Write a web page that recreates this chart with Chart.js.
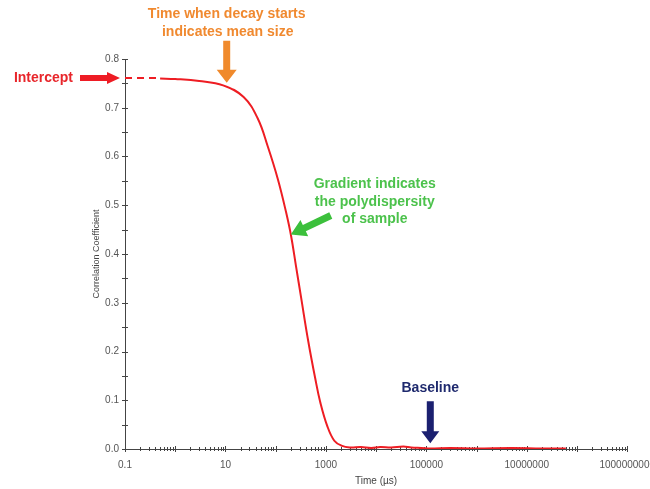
<!DOCTYPE html>
<html>
<head>
<meta charset="utf-8">
<script src="https://cdn.jsdelivr.net/npm/chart.js@4.4.0/dist/chart.umd.min.js"></script>
<style>
  html, body { margin: 0; padding: 0; background: #fff; overflow: hidden; }
  /* a bit wider than the window so the last x label gets cut like the original */
  #wrap { width: 665px; height: 489px; }
</style>
</head>
<body>
<div id="wrap"><canvas id="myChart"></canvas></div>
<script>
// correlation function (time in µs)
const timeUs = [0.5, 1, 3, 9, 23, 44, 70, 111, 161, 203, 255, 322, 444, 613, 773, 1067, 1473, 2035,
    3000, 5000, 8000, 12000, 20000, 35000, 50000, 80000, 120000, 300000, 1000000, 5000000, 20000000, 60000000];
const correlation = [0.760, 0.759, 0.755, 0.746, 0.722, 0.678, 0.620, 0.553, 0.486, 0.437, 0.374, 0.310, 0.222, 0.145, 0.096, 0.047, 0.017, 0.007,
    0.003, 0.004, 0.002, 0.004, 0.003, 0.005, 0.003, 0.002, 0.001, 0.002, 0.001, 0.002, 0.001, 0.001];

// extrapolated intercept (dashed part)
const interceptTime = [0.1, 0.5];
const interceptValue = [0.761, 0.761];

const xTickValues = [0.1, 10, 1000, 100000, 10000000, 1000000000];
const xTickLabels = ['0.1', '10', '1000', '100000', '10000000', '1000000000'];
const yTickValues = [0, 0.1, 0.2, 0.3, 0.4, 0.5, 0.6, 0.7, 0.8];
const yTickLabels = ['0.0', '0.1', '0.2', '0.3', '0.4', '0.5', '0.6', '0.7', '0.8'];

const lineRed = '#ee1d23';
const axisColor = '#444';

// small cross-shaped tick marks on both axes
const tickMarks = {
    id: 'tickMarks',
    beforeDatasetsDraw(chart) {
        const { ctx, scales: { x, y } } = chart;
        const x0 = x.left, y0 = y.bottom;
        ctx.save();
        ctx.strokeStyle = axisColor;
        ctx.lineWidth = 1;
        ctx.beginPath();
        for (let e = -1; e <= 9; e++) {
            for (let m = 1; m <= 9; m++) {
                const v = m * Math.pow(10, e);
                if (v > x.max * 1.0001) break;
                const px = Math.round(x.getPixelForValue(v)) + 0.5;
                const len = m === 1 ? 3 : 2;
                ctx.moveTo(px, y0 - len);
                ctx.lineTo(px, y0 + len);
            }
        }
        for (let i = 0; i <= 16; i++) {
            const py = Math.round(y.getPixelForValue(i * 0.05)) + 0.5;
            ctx.moveTo(x0 - 3, py);
            ctx.lineTo(x0 + 3, py);
        }
        ctx.stroke();
        ctx.restore();
    }
};

function drawArrow(ctx, x1, y1, x2, y2, shaftW, headW, headL, color) {
    const ang = Math.atan2(y2 - y1, x2 - x1);
    const len = Math.hypot(x2 - x1, y2 - y1);
    ctx.save();
    ctx.translate(x1, y1);
    ctx.rotate(ang);
    ctx.fillStyle = color;
    ctx.beginPath();
    ctx.moveTo(0, -shaftW / 2);
    ctx.lineTo(len - headL, -shaftW / 2);
    ctx.lineTo(len - headL, -headW / 2);
    ctx.lineTo(len, 0);
    ctx.lineTo(len - headL, headW / 2);
    ctx.lineTo(len - headL, shaftW / 2);
    ctx.lineTo(0, shaftW / 2);
    ctx.closePath();
    ctx.fill();
    ctx.restore();
}

const callouts = {
    id: 'callouts',
    afterDraw(chart) {
        const { ctx, chartArea, scales: { x, y } } = chart;
        ctx.save();
        ctx.font = 'bold 14px "Liberation Sans", Arial, sans-serif';
        ctx.textBaseline = 'middle';

        // intercept
        const iy = y.getPixelForValue(interceptValue[0]);
        const ix = chartArea.left - 5;
        drawArrow(ctx, ix - 40, iy, ix, iy, 6, 12, 13, '#ee1c24');
        ctx.fillStyle = '#e8262b';
        ctx.textAlign = 'right';
        ctx.fillText('Intercept', ix - 47, iy);

        // decay start
        const ox = x.getPixelForValue(10.6), oy = y.getPixelForValue(0.747) - 2;
        drawArrow(ctx, ox, oy - 42, ox, oy, 7, 20, 13, '#f08a2c');
        ctx.fillStyle = '#f0892f';
        ctx.textAlign = 'center';
        ctx.fillText('Time when decay starts', ox, oy - 69);
        ctx.fillText('indicates mean size', ox + 1, oy - 51);

        // gradient
        const gx = x.getPixelForValue(200), gy = y.getPixelForValue(0.44);
        drawArrow(ctx, gx + 40, gy - 19, gx, gy, 7, 18, 15, '#3cc03c');
        ctx.fillStyle = '#4cc24c';
        ctx.fillText('Gradient indicates', gx + 84, gy - 50);
        ctx.fillText('the polydispersity', gx + 84, gy - 32);
        ctx.fillText('of sample', gx + 84, gy - 15);

        // baseline
        const bx = x.getPixelForValue(120000), by = y.getPixelForValue(0.012);
        drawArrow(ctx, bx, by - 42, bx, by, 7, 18, 12, '#1b2070');
        ctx.fillStyle = '#1f2a6e';
        ctx.fillText('Baseline', bx, by - 55);
        ctx.restore();
    }
};

const ctx = document.getElementById('myChart').getContext('2d');
new Chart(ctx, {
    type: 'line',
    data: {
        datasets: [{
            label: 'Correlation',
            data: timeUs.map((t, i) => ({ x: t, y: correlation[i] })),
            borderColor: lineRed,
            borderWidth: 2,
            pointRadius: 0,
            tension: 0.4,
            fill: false
        }, {
            label: 'Intercept',
            data: interceptTime.map((t, i) => ({ x: t, y: interceptValue[i] })),
            borderColor: lineRed,
            borderWidth: 2,
            borderDash: [7, 5],
            pointRadius: 0,
            fill: false
        }]
    },
    options: {
        responsive: true,
        maintainAspectRatio: false,
        animation: false,
        layout: { padding: { left: 85, top: 59, right: 0, bottom: 0 } },
        plugins: { legend: { display: false }, tooltip: { enabled: false } },
        scales: {
            x: {
                type: 'logarithmic',
                min: 0.1,
                max: 1000000000,
                grid: { display: false, drawTicks: false },
                border: { display: true, color: axisColor, width: 1 },
                afterBuildTicks: (scale) => { scale.ticks = xTickValues.map(v => ({ value: v })); },
                afterFit: (scale) => { scale.height = 40; },
                ticks: {
                    autoSkip: false,
                    maxRotation: 0,
                    padding: 10,
                    color: '#555',
                    font: { family: '"Liberation Sans", Arial, sans-serif', size: 10 },
                    callback: (value, index) => xTickLabels[index]
                },
                title: {
                    display: true,
                    text: 'Time (µs)',
                    color: '#444',
                    font: { family: '"Liberation Sans", Arial, sans-serif', size: 10 },
                    padding: { top: 4, bottom: 2 }
                }
            },
            y: {
                min: 0,
                max: 0.8,
                grid: { display: false, drawTicks: false },
                border: { display: true, color: axisColor, width: 1 },
                afterBuildTicks: (scale) => { scale.ticks = yTickValues.map(v => ({ value: v })); },
                afterFit: (scale) => { scale.width = 40; },
                ticks: {
                    padding: 6,
                    color: '#555',
                    font: { family: '"Liberation Sans", Arial, sans-serif', size: 10 },
                    callback: (value, index) => yTickLabels[index]
                },
                title: {
                    display: true,
                    text: 'Correlation Coefficient',
                    color: '#444',
                    font: { family: '"Liberation Sans", Arial, sans-serif', size: 9 },
                    padding: { top: 6, bottom: 0 }
                }
            }
        }
    },
    plugins: [tickMarks, callouts]
});
</script>
</body>
</html>
